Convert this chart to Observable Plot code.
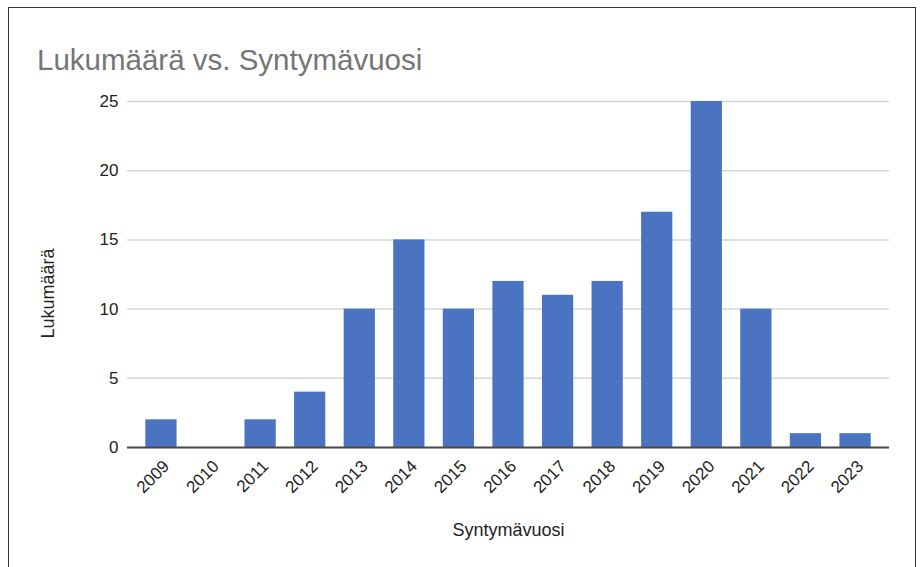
<!DOCTYPE html>
<html>
<head>
<meta charset="utf-8">
<script src="https://cdn.jsdelivr.net/npm/d3@7"></script>
<script src="https://cdn.jsdelivr.net/npm/@observablehq/plot@0.6"></script>
<style>
  html, body { margin: 0; padding: 0; background: #fff; overflow: hidden; }
  #wrap { position: relative; width: 920px; height: 567px; overflow: hidden; font-family: "Liberation Sans", Arial, sans-serif; }
  #frame { position: absolute; left: 8px; top: 7px; width: 908px; height: 600px; border: 1px solid #333; box-sizing: border-box; }
  #title { position: absolute; left: 37px; top: 43px; font-size: 29.5px; color: #757575; white-space: nowrap; }
  #chart { position: absolute; left: 0; top: 0; }
</style>
</head>
<body>
<div id="wrap">
  <div id="frame"></div>
  <div id="title">Lukumäärä vs. Syntymävuosi</div>
  <div id="chart"></div>
</div>
<script>
const years = ["2009","2010","2011","2012","2013","2014","2015","2016","2017","2018","2019","2020","2021","2022","2023"];
const counts = [2, 0, 2, 4, 10, 15, 10, 12, 11, 12, 17, 25, 10, 1, 1];
const yTicks = [0, 5, 10, 15, 20, 25];
const xLabel = "Syntymävuosi";
const yLabel = "Lukumäärä";

const data = years.map((y, i) => ({year: y, count: counts[i]}));

const chart = Plot.plot({
  width: 920,
  height: 567,
  marginLeft: 127,
  marginRight: 31,
  marginTop: 101,
  marginBottom: 120,
  style: {fontFamily: "'Liberation Sans', Arial, sans-serif", fontSize: "17px", color: "#222", background: "transparent"},
  x: {domain: years, paddingInner: 0.37, paddingOuter: 0.37, round: false},
  y: {domain: [0, 25]},
  marks: [
    Plot.gridY(yTicks, {stroke: "#d6d6d6", strokeOpacity: 1, strokeWidth: 1.5}),
    Plot.barY(data, {x: "year", y: "count", fill: "#4a74c2"}),
    Plot.ruleY([0], {stroke: "#4a4a4a", strokeWidth: 2}),
    Plot.axisY(yTicks, {tickSize: 0, tickPadding: 9, label: null, fontSize: 17}),
    Plot.axisX({tickSize: 0, tickPadding: 16, dx: 5, tickRotate: -45, label: null, fontSize: 17}),
    Plot.text([yLabel], {frameAnchor: "left", textAnchor: "middle", lineAnchor: "middle", dx: -79, dy: 19, rotate: -90, fontSize: 18, fill: "#222"}),
    Plot.text([xLabel], {frameAnchor: "bottom", textAnchor: "middle", lineAnchor: "middle", dy: 83, fontSize: 18, fill: "#222"})
  ]
});
document.getElementById("chart").appendChild(chart);
</script>
</body>
</html>
